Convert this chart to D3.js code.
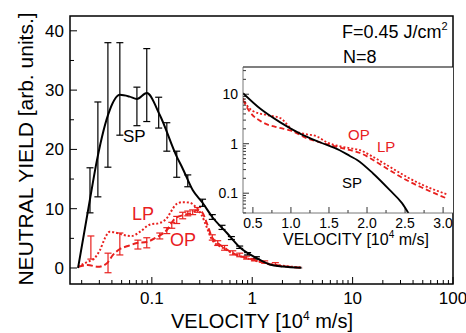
<!DOCTYPE html>
<html>
<head>
<meta charset="utf-8">
<script src="https://cdn.jsdelivr.net/npm/d3@7"></script>
<style>
    body { margin: 0; background: white; }
    text { font-family: "Liberation Sans", Arial, sans-serif; }
</style>
</head>
<body>
<svg id="chart-svg" width="466" height="333"></svg>
<script>
/** Main panel: velocity [10^4 m/s] vs neutral yield **/
var sp_vel   = [0.0184, 0.0242, 0.0284, 0.038, 0.048, 0.06, 0.071, 0.089, 0.12, 0.178, 0.2, 0.256, 0.32, 0.40, 0.56, 0.75, 1.1, 1.5, 2.0, 3.1];
var sp_yield = [0, 11.6, 18.2, 26.6, 29.2, 28.9, 28.5, 29.5, 25.8, 18.7, 17, 13.1, 11, 8.6, 5.9, 3.5, 1.7, 0.6, 0.25, 0.05];

var sp_err_vel = [0.0242, 0.029, 0.0365, 0.048, 0.071, 0.089, 0.117, 0.141, 0.177, 0.228, 0.32, 0.40, 0.50, 0.62, 0.75, 0.9, 1.1];
var sp_err_lo  = [9.3, 12, 17, 22.4, 24, 24.7, 23.6, 19.7, 15.3, 13.7, 10.4, 8.2, 6.5, 4.8, 3.3, 2.2, 1.5];
var sp_err_hi  = [16.9, 28, 38, 38, 30.5, 37, 28.8, 24.5, 19.7, 15.7, 11.6, 9.0, 7.2, 5.3, 3.7, 2.6, 1.9];

var op_vel   = [0.0184, 0.023, 0.029, 0.0357, 0.041, 0.048, 0.0577, 0.071, 0.089, 0.112, 0.141, 0.169, 0.203, 0.25, 0.286, 0.32, 0.352, 0.40, 0.453, 0.53, 0.64, 0.88, 1.13, 1.6, 2.35, 3.1];
var op_yield = [0.2, 0.5, 0.2, 0.8, 2.2, 3.2, 3.7, 4.2, 4.4, 5.2, 6.4, 8.3, 8.9, 9.3, 9.8, 9.3, 7.6, 5.1, 4.2, 3.4, 2.5, 1.7, 1.2, 0.5, 0.2, 0.0];

var op_err_vel = [0.0247, 0.0366, 0.048, 0.0726, 0.089, 0.12, 0.141, 0.158, 0.177, 0.203, 0.228, 0.255, 0.286, 0.40, 0.453, 0.53, 0.64, 0.75, 0.88, 1.05, 1.33, 1.7];
var op_err_lo  = [1.5, -0.8, 2.2, 3.2, 3.4, 4.9, 5.8, 6.7, 7.5, 8.3, 8.8, 9.0, 9.4, 4.7, 3.8, 3.0, 2.2, 1.9, 1.5, 1.2, 0.8, 0.5];
var op_err_hi  = [5.4, 2.5, 5.9, 4.7, 5.1, 5.9, 6.8, 7.7, 8.7, 9.4, 9.6, 9.8, 10.2, 5.6, 4.6, 3.8, 2.9, 2.5, 2.0, 1.6, 1.2, 0.9];

var lp_vel   = [0.0184, 0.0226, 0.027, 0.0304, 0.034, 0.038, 0.045, 0.0515, 0.063, 0.076, 0.095, 0.12, 0.144, 0.155, 0.177, 0.203, 0.239, 0.28, 0.314, 0.352, 0.40, 0.51, 0.70, 0.94, 1.6, 2.35, 3.2];
var lp_yield = [0.2, 1.0, 1.7, 3.0, 5.0, 6.1, 5.9, 5.6, 5.4, 6.1, 7.3, 7.6, 8.6, 9.5, 10.8, 11.1, 11.0, 10.1, 8.9, 6.9, 4.7, 3.4, 2.2, 1.5, 0.6, 0.25, 0.05];

var main_x_ticks = [0.1, 1, 10, 100];
var main_y_ticks = [0, 10, 20, 30, 40];

/** Inset: linear velocity vs log yield **/
var in_sp_vel   = [0.37, 0.59, 0.86, 1.12, 1.38, 1.64, 1.78, 1.87, 2.08, 2.30, 2.46, 2.56, 2.62];
var in_sp_yield = [10.5, 5.2, 2.7, 1.6, 1.07, 0.74, 0.56, 0.47, 0.25, 0.115, 0.063, 0.036, 0.025];

var in_lp_vel   = [0.37, 0.42, 0.5, 0.68, 0.86, 1.03, 1.21, 1.34, 1.47, 1.64, 1.78, 1.91, 2.08, 2.30, 2.53, 2.74, 3.05];
var in_lp_yield = [8.3, 6.0, 4.6, 3.8, 3.3, 1.86, 1.55, 1.41, 1.07, 0.89, 0.81, 0.74, 0.54, 0.34, 0.21, 0.145, 0.095];

var in_op_vel   = [0.37, 0.46, 0.63, 0.82, 0.99, 1.21, 1.47, 1.78, 1.91, 2.08, 2.30, 2.53, 2.74, 3.05];
var in_op_yield = [7.6, 4.4, 2.7, 2.14, 1.86, 1.29, 0.98, 0.74, 0.65, 0.47, 0.29, 0.18, 0.126, 0.078];

var inset_x_ticks = [0.5, 1.0, 1.5, 2.0, 2.5, 3.0];
var inset_y_ticks = [0.1, 1, 10];

var RED = "#e8201e";
var chart_svg = d3.select("#chart-svg");

function zip(xs, ys){
    return xs.map(function(v, i){ return {x: v, y: ys[i]}; });
}

/** Scales for the main panel **/
var xScale = d3.scaleLog().domain([0.0153, 100]).range([70, 453]);
var yScale = d3.scaleLinear().domain([-2.7, 42.5]).range([284, 16]);

var mainLine = d3.line()
    .curve(d3.curveMonotoneX)
    .x(function(d){ return xScale(d.x); })
    .y(function(d){ return yScale(d.y); });

/** Error bars (drawn under curves) **/
function drawErrors(g, vel, lo, hi, color, cap){
    var data = vel.map(function(v, i){ return {x: v, lo: lo[i], hi: hi[i]}; });
    var eb = g.append("g").selectAll("g").data(data).enter().append("g")
        .attr("stroke", color).attr("stroke-width", 1.2).attr("fill", "none");
    eb.append("line")
        .attr("x1", function(d){ return xScale(d.x); })
        .attr("x2", function(d){ return xScale(d.x); })
        .attr("y1", function(d){ return yScale(d.lo); })
        .attr("y2", function(d){ return yScale(d.hi); });
    ["lo", "hi"].forEach(function(k){
        eb.append("line")
            .attr("x1", function(d){ return xScale(d.x) - cap; })
            .attr("x2", function(d){ return xScale(d.x) + cap; })
            .attr("y1", function(d){ return yScale(d[k]); })
            .attr("y2", function(d){ return yScale(d[k]); });
    });
}

var g = chart_svg.append("g");

drawErrors(g, op_err_vel, op_err_lo, op_err_hi, RED, 3.5);
drawErrors(g, sp_err_vel, sp_err_lo, sp_err_hi, "black", 3.5);

g.append("path").datum(zip(lp_vel, lp_yield))
    .attr("fill", "none").attr("stroke", RED).attr("stroke-width", 2)
    .attr("stroke-dasharray", "2,2").attr("d", mainLine);
g.append("path").datum(zip(op_vel, op_yield))
    .attr("fill", "none").attr("stroke", RED).attr("stroke-width", 2)
    .attr("stroke-dasharray", "6,3").attr("d", mainLine);
g.append("path").datum(zip(sp_vel, sp_yield))
    .attr("fill", "none").attr("stroke", "black").attr("stroke-width", 2)
    .attr("d", mainLine);

/** Axes of the main panel: ticks point inward **/
var yMinor = d3.range(0, 41, 5);
g.append("g").selectAll("line").data(yMinor).enter().append("line")
    .attr("x1", 70).attr("x2", function(d){ return d % 10 === 0 ? 77 : 74; })
    .attr("y1", function(d){ return yScale(d); }).attr("y2", function(d){ return yScale(d); })
    .attr("stroke", "black").attr("stroke-width", 1);
g.append("g").selectAll("text").data(main_y_ticks).enter().append("text")
    .attr("x", 64).attr("y", function(d){ return yScale(d) + 6; })
    .attr("text-anchor", "end").style("font-size", "17px")
    .text(function(d){ return d; });

var xMinor = [];
[0.01, 0.1, 1, 10].forEach(function(dec){
    for(var k = 1; k <= 9; k++){
        var v = dec * k;
        if(v >= 0.0153 && v <= 100){ xMinor.push(v); }
    }
});
xMinor.push(100);
g.append("g").selectAll("line").data(xMinor).enter().append("line")
    .attr("x1", function(d){ return xScale(d); }).attr("x2", function(d){ return xScale(d); })
    .attr("y1", 284).attr("y2", function(d){ return main_x_ticks.indexOf(d) >= 0 ? 277 : 280; })
    .attr("stroke", "black").attr("stroke-width", 1);
g.append("g").selectAll("text").data(main_x_ticks).enter().append("text")
    .attr("x", function(d){ return xScale(d); }).attr("y", 304)
    .attr("text-anchor", "middle").style("font-size", "17px")
    .text(function(d){ return d; });

/** Frame **/
g.append("rect").attr("x", 70).attr("y", 16).attr("width", 383).attr("height", 268)
    .attr("fill", "none").attr("stroke", "black").attr("stroke-width", 1.5);

/** Axis titles **/
var xt = g.append("text").attr("x", 262).attr("y", 328)
    .attr("text-anchor", "middle").style("font-size", "20px");
xt.append("tspan").text("VELOCITY [10");
xt.append("tspan").attr("dy", -8).style("font-size", "12px").text("4");
xt.append("tspan").attr("dy", 8).text(" m/s]");

g.append("text").attr("transform", "translate(33,149) rotate(-90)")
    .attr("text-anchor", "middle").style("font-size", "21px")
    .text("NEUTRAL YIELD [arb. units.]");

/** Curve labels **/
g.append("text").attr("x", 123).attr("y", 142).style("font-size", "17px").text("SP");
g.append("text").attr("x", 132).attr("y", 220).style("font-size", "18px").attr("fill", RED).text("LP");
g.append("text").attr("x", 170).attr("y", 246).style("font-size", "18px").attr("fill", RED).text("OP");

/** Fluence and pulse number **/
var ft = g.append("text").attr("x", 342).attr("y", 38).style("font-size", "18px");
ft.append("tspan").text("F=0.45 J/cm");
ft.append("tspan").attr("dy", -8).style("font-size", "11px").text("2");
g.append("text").attr("x", 343).attr("y", 63).style("font-size", "18px").text("N=8");

/** Inset panel **/
var ix = d3.scaleLinear().domain([0.37, 3.13]).range([243, 453]);
var iy = d3.scaleLog().domain([0.0398, 35.5]).range([213, 67]);

var inset = chart_svg.append("g");
inset.append("rect").attr("x", 243).attr("y", 67).attr("width", 210).attr("height", 146)
    .attr("fill", "white").attr("stroke", "none");

inset.append("clipPath").attr("id", "inset-clip").append("rect")
    .attr("x", 243).attr("y", 67).attr("width", 210).attr("height", 146);

var insetLine = d3.line()
    .curve(d3.curveMonotoneX)
    .x(function(d){ return ix(d.x); })
    .y(function(d){ return iy(d.y); });

var curves = inset.append("g").attr("clip-path", "url(#inset-clip)");
curves.append("path").datum(zip(in_lp_vel, in_lp_yield))
    .attr("fill", "none").attr("stroke", RED).attr("stroke-width", 1.8)
    .attr("stroke-dasharray", "2,2").attr("d", insetLine);
curves.append("path").datum(zip(in_op_vel, in_op_yield))
    .attr("fill", "none").attr("stroke", RED).attr("stroke-width", 1.8)
    .attr("stroke-dasharray", "5,3").attr("d", insetLine);
curves.append("path").datum(zip(in_sp_vel, in_sp_yield))
    .attr("fill", "none").attr("stroke", "black").attr("stroke-width", 1.8)
    .attr("d", insetLine);

/** Inset axes **/
var iyMinor = [];
[0.01, 0.1, 1, 10].forEach(function(dec){
    for(var k = 1; k <= 9; k++){
        var v = dec * k;
        if(v >= 0.0398 && v <= 35.5){ iyMinor.push(v); }
    }
});
inset.append("g").selectAll("line").data(iyMinor).enter().append("line")
    .attr("x1", 243).attr("x2", function(d){ return inset_y_ticks.indexOf(d) >= 0 ? 249 : 246; })
    .attr("y1", function(d){ return iy(d); }).attr("y2", function(d){ return iy(d); })
    .attr("stroke", "black").attr("stroke-width", 0.8);
inset.append("g").selectAll("text").data(inset_y_ticks).enter().append("text")
    .attr("x", 238).attr("y", function(d){ return iy(d) + 5; })
    .attr("text-anchor", "end").style("font-size", "14px")
    .text(function(d){ return d; });

var ixMinor = d3.range(0.5, 3.01, 0.25);
inset.append("g").selectAll("line").data(ixMinor).enter().append("line")
    .attr("x1", function(d){ return ix(d); }).attr("x2", function(d){ return ix(d); })
    .attr("y1", 213).attr("y2", function(d){ return Math.abs(d * 2 - Math.round(d * 2)) < 1e-6 ? 207 : 210; })
    .attr("stroke", "black").attr("stroke-width", 0.8);
inset.append("g").selectAll("text").data(inset_x_ticks).enter().append("text")
    .attr("x", function(d){ return ix(d); }).attr("y", 228)
    .attr("text-anchor", "middle").style("font-size", "14px")
    .text(function(d){ return d.toFixed(1); });

inset.append("line").attr("x1", 243).attr("x2", 453).attr("y1", 67).attr("y2", 67)
    .attr("stroke", "black").attr("stroke-width", 1.2);
inset.append("line").attr("x1", 243).attr("x2", 243).attr("y1", 67).attr("y2", 213)
    .attr("stroke", "#555").attr("stroke-width", 0.8);
inset.append("line").attr("x1", 243).attr("x2", 453).attr("y1", 213).attr("y2", 213)
    .attr("stroke", "#555").attr("stroke-width", 0.8);

var it = inset.append("text").attr("x", 356).attr("y", 245)
    .attr("text-anchor", "middle").style("font-size", "16px");
it.append("tspan").text("VELOCITY [10");
it.append("tspan").attr("dy", -7).style("font-size", "10px").text("4");
it.append("tspan").attr("dy", 7).text(" m/s]");

inset.append("text").attr("x", 348).attr("y", 140).style("font-size", "15px").attr("fill", RED).text("OP");
inset.append("text").attr("x", 377).attr("y", 152).style("font-size", "15px").attr("fill", RED).text("LP");
inset.append("text").attr("x", 342).attr("y", 188).style("font-size", "15px").text("SP");
</script>
</body>
</html>
